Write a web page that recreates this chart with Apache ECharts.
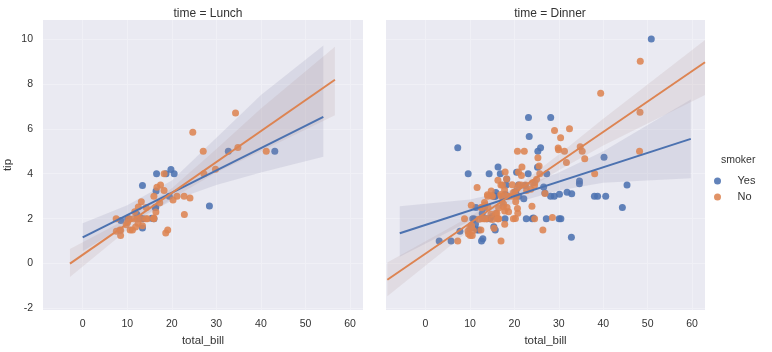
<!DOCTYPE html>
<html>
<head>
<meta charset="utf-8">
<script src="https://cdn.jsdelivr.net/npm/echarts@6/dist/echarts.min.js"></script>
<style>
html,body{margin:0;padding:0;background:#fff;}
#chart{width:772px;height:352px;}
</style>
</head>
<body>
<div id="chart"></div>
<script>
// ---- data: [total_bill, tip] ----
var lunchYes = [[19.44,3.0],[32.68,5.0],[16.0,2.0],[19.81,4.19],[28.44,2.56],[15.48,2.02],[16.58,4.0],[10.34,2.0],[43.11,5.0],[13.0,2.0],[13.51,2.0],[18.71,4.0],[12.74,2.01],[13.0,2.0],[16.4,2.5],[20.53,4.0],[16.47,3.23],[12.16,2.2],[13.42,3.48],[8.58,1.92],[13.42,1.58],[16.27,2.5],[10.09,2.0]];
var lunchNo = [[27.2,4.0],[22.76,3.0],[17.29,2.71],[16.66,3.4],[10.07,1.83],[15.98,2.03],[34.83,5.17],[13.03,2.0],[18.28,4.0],[24.71,5.85],[21.16,3.0],[10.65,1.5],[12.43,1.8],[24.08,2.92],[11.69,2.31],[13.42,1.68],[14.26,2.5],[15.95,2.0],[12.48,2.52],[29.8,4.2],[8.52,1.48],[14.52,2.0],[11.38,2.0],[22.82,2.18],[19.08,1.5],[20.27,2.83],[11.17,1.5],[12.26,2.0],[18.26,3.25],[8.51,1.25],[10.33,2.0],[14.15,2.0],[13.16,2.75],[17.47,3.5],[34.3,6.7],[41.19,5.0],[27.05,5.0],[16.43,2.3],[8.35,1.5],[18.64,1.36],[11.87,1.63],[9.78,1.73],[7.51,2.0],[15.98,3.0],[7.56,1.44]];
var dinnerYes = [[38.01,3.0],[11.24,1.76],[20.29,3.21],[13.81,2.0],[11.02,1.98],[18.29,3.76],[3.07,1.0],[15.01,2.09],[26.86,3.14],[25.28,5.0],[17.92,3.08],[28.97,3.0],[5.75,1.0],[16.32,4.3],[40.17,4.73],[27.28,4.0],[12.03,1.5],[21.01,3.0],[11.35,2.5],[15.38,3.0],[44.3,2.5],[22.42,3.48],[15.36,1.64],[20.49,4.06],[25.21,4.29],[14.31,4.0],[17.51,3.0],[10.59,1.61],[10.63,2.0],[50.81,10.0],[15.81,3.16],[7.25,5.15],[31.85,3.18],[16.82,4.0],[32.9,3.11],[17.89,2.0],[14.48,2.0],[9.6,4.0],[34.63,3.55],[34.65,3.68],[23.33,5.65],[45.35,3.5],[23.17,6.5],[40.55,3.0],[20.9,3.5],[30.46,2.0],[18.15,3.5],[23.1,4.0],[15.69,1.5],[26.59,3.41],[38.73,3.0],[24.27,2.03],[12.76,2.23],[30.06,2.0],[25.89,5.16],[13.27,2.5],[28.17,6.5],[12.9,1.1],[28.15,3.0],[11.59,1.5],[7.74,1.44],[30.14,3.09],[22.12,2.88],[24.01,2.0],[15.69,3.0],[15.53,3.0],[12.6,1.0],[32.83,1.17],[27.18,2.0],[22.67,2.0]];
var dinnerNo = [[16.99,1.01],[10.34,1.66],[21.01,3.5],[23.68,3.31],[24.59,3.61],[25.29,4.71],[8.77,2.0],[26.88,3.12],[15.04,1.96],[14.78,3.23],[10.27,1.71],[35.26,5.0],[15.42,1.57],[18.43,3.0],[14.83,3.02],[21.58,3.92],[10.33,1.67],[16.29,3.71],[16.97,3.5],[20.65,3.35],[17.92,4.08],[20.29,2.75],[15.77,2.23],[39.42,7.58],[19.82,3.18],[17.81,2.34],[13.37,2.0],[12.69,2.0],[21.7,4.3],[19.65,3.0],[9.55,1.45],[18.35,2.5],[15.06,3.0],[20.69,2.45],[17.78,3.27],[24.06,3.6],[16.31,2.0],[16.93,3.07],[18.69,2.31],[31.27,5.0],[16.04,2.24],[17.46,2.54],[13.94,3.06],[9.68,1.32],[30.4,5.6],[18.29,3.0],[22.23,5.0],[32.4,6.0],[28.55,2.05],[18.04,3.0],[12.54,2.5],[10.29,2.6],[34.81,5.2],[9.94,1.56],[25.56,4.34],[19.49,3.51],[26.41,1.5],[48.27,6.73],[17.59,2.64],[20.08,3.15],[16.45,2.47],[20.23,2.01],[12.02,1.97],[17.07,3.0],[14.73,2.2],[10.51,1.25],[22.49,3.5],[22.75,3.25],[12.46,1.5],[20.92,4.08],[18.24,3.76],[14.0,3.0],[7.25,1.0],[38.07,4.0],[23.95,2.55],[25.71,4.0],[17.31,3.5],[29.93,5.07],[14.07,2.5],[13.13,2.0],[17.26,2.74],[24.55,2.0],[19.77,2.0],[29.85,5.14],[48.17,5.0],[25.0,3.75],[13.39,2.61],[16.49,2.0],[21.5,3.5],[12.66,2.5],[16.21,2.0],[13.81,2.0],[24.52,3.48],[20.76,2.24],[31.71,4.5],[20.69,5.0],[48.33,9.0],[20.45,3.0],[13.28,2.72],[11.61,3.39],[10.77,1.47],[10.07,1.25],[35.83,4.67],[29.03,5.92],[17.82,1.75],[18.78,3.0]];

// ---- regression fits: [x, y] endpoints ----
var lunchYesFit = [[0,1.17],[54,6.53]];
var lunchNoFit = [[-2.85,0.0],[56.6,8.18]];
var dinnerYesFit = [[-5.8,1.35],[59.7,5.55]];
var dinnerNoFit = [[-8.6,-0.72],[62.9,8.96]];

// ---- confidence bands ----
var lunchYesBandX = [0,10,20,30,40,54];
var lunchYesBandUp = [1.8,2.6,3.7,5.6,7.5,9.7];
var lunchYesBandLo = [0.55,1.75,2.8,3.5,4.05,4.75];
var lunchNoBandX = [-2.85,10,20,30,40,56.6];
var lunchNoBandUp = [0.65,2.0,3.35,5.1,6.9,9.65];
var lunchNoBandLo = [-0.6,1.5,2.9,4.05,5.0,6.6];
var dinnerYesBandX = [-5.8,10,20,30,40,59.7];
var dinnerYesBandUp = [2.55,2.85,3.3,4.05,5.0,7.3];
var dinnerYesBandLo = [0.3,1.9,2.7,3.25,3.6,3.8];
var dinnerNoBandX = [-8.6,10,20,30,40,62.9];
var dinnerNoBandUp = [0.05,2.1,3.35,4.85,6.45,9.95];
var dinnerNoBandLo = [-1.45,1.5,2.95,4.15,5.25,7.5];

var xTicks = [0,10,20,30,40,50,60];
var yTicks = [-2,0,2,4,6,8,10];
var panelTitles = ['time = Lunch','time = Dinner'];
var hueNames = ['Yes','No'];

var BLUE = '#4C72B0', ORANGE = '#DD8452';
var BAND_YES = 'rgba(138,138,174,0.18)', BAND_NO = 'rgba(176,144,144,0.16)';
var FONT = '"Liberation Sans", Arial, sans-serif';
var TXT = '#333333';

var chart = echarts.init(document.getElementById('chart'), null, {renderer:'canvas'});

function xAxisCfg(gi){
  return {
    type:'value', gridIndex:gi, min:-8.9, max:62.9,
    name:'total_bill', nameLocation:'middle', nameGap:22,
    nameTextStyle:{color:TXT, fontSize:11.5, fontFamily:FONT},
    axisLine:{show:false},
    axisTick:{show:false, customValues:xTicks},
    axisLabel:{customValues:xTicks, color:TXT, fontSize:10.5, fontFamily:FONT, margin:9},
    splitLine:{show:true, lineStyle:{color:'#f0f0f6', width:1}}
  };
}
function yAxisCfg(gi, showLabels){
  return {
    type:'value', gridIndex:gi, min:-2.07, max:10.84,
    name: showLabels ? 'tip' : '', nameLocation:'middle', nameGap:29,
    nameTextStyle:{color:TXT, fontSize:11.5, fontFamily:FONT},
    axisLine:{show:false},
    axisTick:{show:false, customValues:yTicks},
    axisLabel:{show:showLabels, customValues:yTicks, color:TXT, fontSize:10.5, fontFamily:FONT, margin:10},
    splitLine:{show:true, lineStyle:{color:'#f0f0f6', width:1}}
  };
}

function bandSeries(gi, bx, up, lo, color, z){
  return {
    type:'custom', xAxisIndex:gi, yAxisIndex:gi, z:z, silent:true,
    data:[[20,3]],
    renderItem:function(params, api){
      var pts = [];
      for (var i=0;i<bx.length;i++) pts.push(api.coord([bx[i], up[i]]));
      for (var j=bx.length-1;j>=0;j--) pts.push(api.coord([bx[j], lo[j]]));
      return {type:'polygon', shape:{points:pts}, style:{fill:color}};
    },
    clip:true
  };
}
function scatterSeries(gi, name, data, color, z){
  return {type:'scatter', name:name, xAxisIndex:gi, yAxisIndex:gi, data:data, z:z,
    symbol:'circle', symbolSize:7, itemStyle:{color:color, opacity:0.88}, silent:true};
}
function lineSeries(gi, data, color, z){
  return {type:'line', xAxisIndex:gi, yAxisIndex:gi, data:data, z:z, showSymbol:false,
    lineStyle:{color:color, width:2}, silent:true};
}

var option = {
  backgroundColor:'#ffffff',
  animation:false,
  title:[
    {text:panelTitles[0], left:203, top:3, textAlign:'center', textStyle:{color:TXT, fontSize:12, fontWeight:'normal', fontFamily:FONT}},
    {text:panelTitles[1], left:545, top:3, textAlign:'center', textStyle:{color:TXT, fontSize:12, fontWeight:'normal', fontFamily:FONT}}
  ],
  grid:[
    {left:43, top:20, width:320, height:292, show:true, backgroundColor:'#EAEAF2', borderWidth:0},
    {left:386, top:20, width:319, height:292, show:true, backgroundColor:'#EAEAF2', borderWidth:0}
  ],
  xAxis:[xAxisCfg(0), xAxisCfg(1)],
  yAxis:[yAxisCfg(0,true), yAxisCfg(1,false)],
  legend:{
    orient:'vertical', left:709, top:169, itemWidth:30, itemHeight:7, itemGap:2,
    icon:'circle', selectedMode:false,
    data:[{name:hueNames[0], itemStyle:{color:BLUE}}, {name:hueNames[1], itemStyle:{color:ORANGE}}],
    textStyle:{color:TXT, fontSize:11, fontFamily:FONT, lineHeight:14}
  },
  graphic:[
    {type:'text', left:721, top:155, style:{text:'smoker', fill:TXT, font:'10.5px ' + FONT}}
  ],
  series:[
    scatterSeries(0, hueNames[0], lunchYes, BLUE, 2),
    bandSeries(0, lunchYesBandX, lunchYesBandUp, lunchYesBandLo, BAND_YES, 3),
    scatterSeries(0, hueNames[1], lunchNo, ORANGE, 4),
    bandSeries(0, lunchNoBandX, lunchNoBandUp, lunchNoBandLo, BAND_NO, 5),
    lineSeries(0, lunchYesFit, BLUE, 6),
    lineSeries(0, lunchNoFit, ORANGE, 7),
    scatterSeries(1, hueNames[0], dinnerYes, BLUE, 2),
    bandSeries(1, dinnerYesBandX, dinnerYesBandUp, dinnerYesBandLo, BAND_YES, 3),
    scatterSeries(1, hueNames[1], dinnerNo, ORANGE, 4),
    bandSeries(1, dinnerNoBandX, dinnerNoBandUp, dinnerNoBandLo, BAND_NO, 5),
    lineSeries(1, dinnerYesFit, BLUE, 6),
    lineSeries(1, dinnerNoFit, ORANGE, 7)
  ]
};
chart.setOption(option);
</script>
</body>
</html>
